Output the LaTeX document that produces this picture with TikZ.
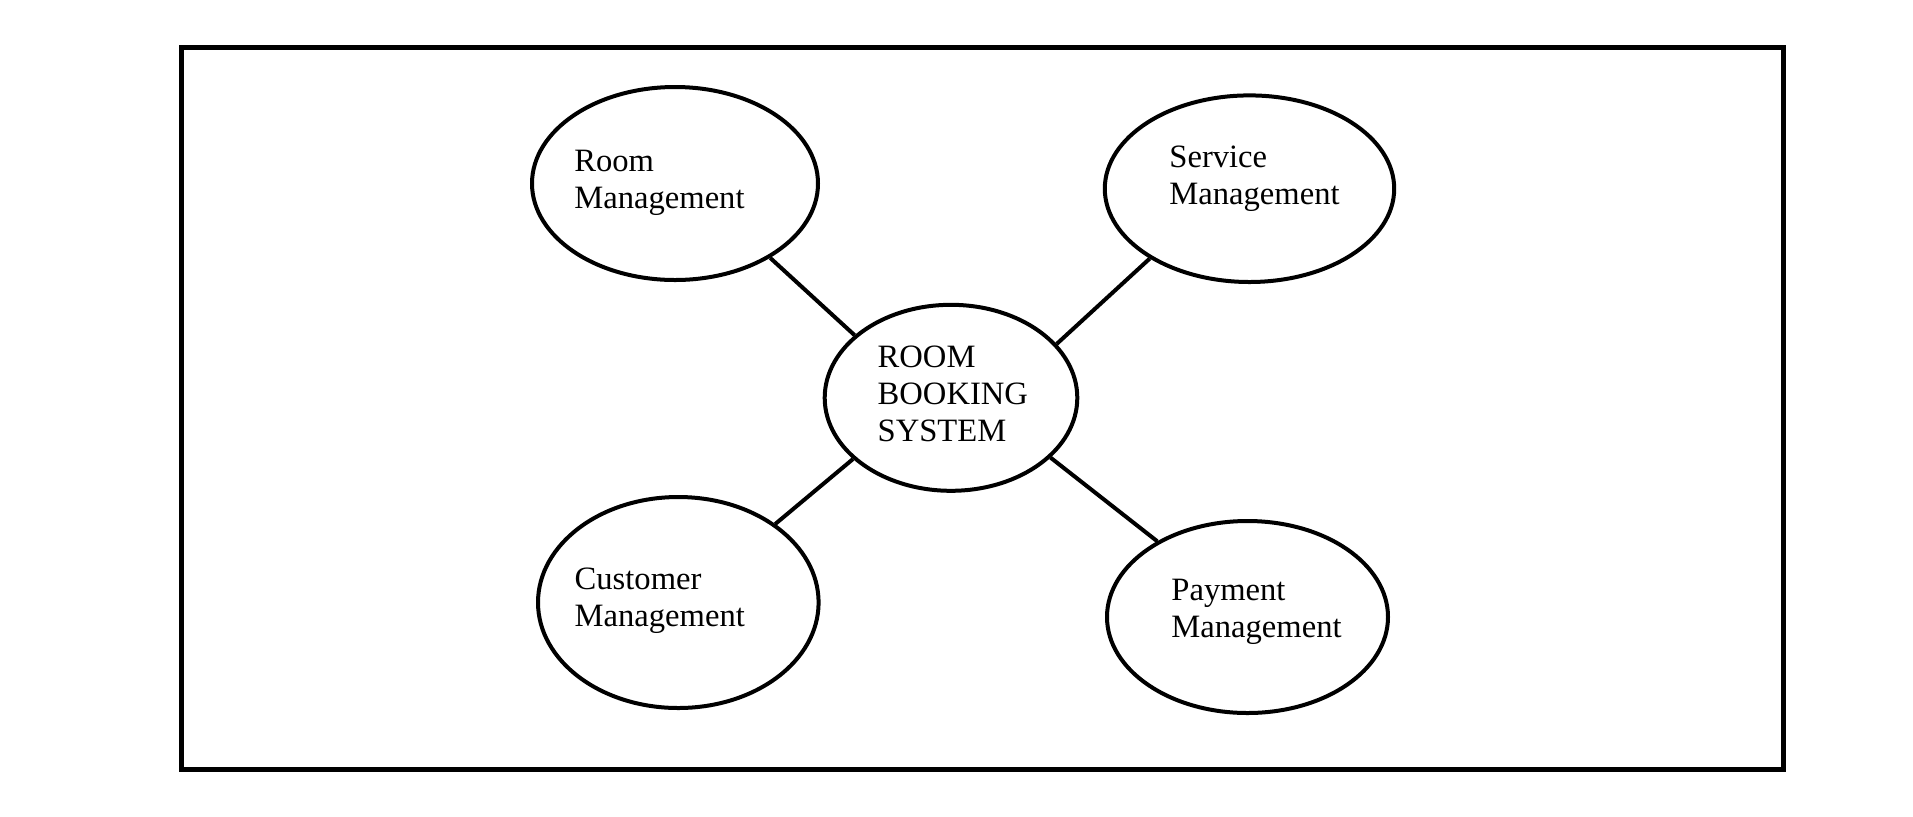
\documentclass[tikz,border=0pt]{standalone}
\usepackage{fontspec}
\setmainfont{Liberation Serif}
\usetikzlibrary{shapes.geometric}

\begin{document}
\begin{tikzpicture}[x=0.5pt, y=-0.5pt,
  module/.style={ellipse, draw, line width=2pt, inner sep=0pt},
  modtext/.style={anchor=north west, inner sep=0pt, align=left, font=\fontsize{16.3pt}{18.5pt}\selectfont},
  link/.style={line width=2pt}]
  \useasboundingbox (0,0) rectangle (1913,816);
  \draw[line width=2.5pt] (181.5,47.5) rectangle (1783.5,769.5);

  \node[module, minimum width=143pt, minimum height=96.5pt] (room) at (675,183.5) {};
  \node[module, minimum width=144.7pt, minimum height=93.3pt] (service) at (1249.5,188.7) {};
  \node[module, minimum width=126.3pt, minimum height=93pt] (sys) at (951,397.8) {};
  \node[module, minimum width=140.3pt, minimum height=105.5pt] (customer) at (678.3,602.5) {};
  \node[module, minimum width=140.5pt, minimum height=96pt] (payment) at (1247.5,617) {};

  \node[modtext] (roomtxt) at (574,149.3) {Room\\Management};
  \node[modtext] (servicetxt) at (1169,145.6) {Service\\Management};
  \node[modtext] (systxt) at (877.3,345.6) {ROOM\\BOOKING\\SYSTEM};
  \node[modtext] (customertxt) at (574.3,567.6) {Customer\\Management};
  \node[modtext] (paymenttxt) at (1171,578.3) {Payment\\Management};

  \draw[link] (room.-38.5) -- (sys.147.6);
  \draw[link] (service.215.1) -- (sys.27.2);
  \draw[link] (customer.39.8) -- (sys.212.3);
  \draw[link] (payment.140.4) -- (sys.-31.3);
\end{tikzpicture}
\end{document}
